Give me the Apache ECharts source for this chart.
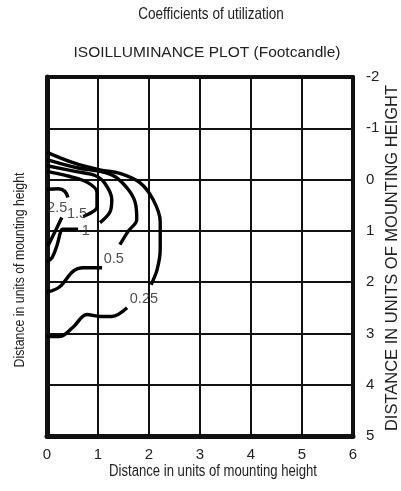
<!DOCTYPE html>
<html><head><meta charset="utf-8">
<script src="https://cdn.jsdelivr.net/npm/echarts@6/dist/echarts.min.js"></script>
<style>html,body{margin:0;padding:0;background:#fff}#c{width:401px;height:491px}</style>
</head><body><div id="c"></div>
<script>
var xTicks = [0, 1, 2, 3, 4, 5, 6];
var yTicks = [-2, -1, 0, 1, 2, 3, 4, 5];
var c025Upper = [[0,-0.53],[0.51,-0.33],[1.04,-0.19],[1.43,-0.12],[1.82,0.06],[2.08,0.39],[2.22,0.82],[2.22,1.36],[2.16,1.75],[2.04,2.05]];
var c025Lower = [[0,3.06],[0.25,3.06],[0.51,2.88],[0.78,2.63],[1.04,2.67],[1.27,2.67],[1.57,2.50]];
var c05Upper = [[0,-0.39],[0.59,-0.23],[1.04,-0.16],[1.33,-0.06],[1.59,0.19],[1.73,0.45],[1.76,0.78],[1.59,1.01],[1.43,1.27]];
var c05Lower = [[0,2.20],[0.25,2.09],[0.51,1.79],[0.71,1.72],[1.08,1.72]];
var c1Upper = [[0,-0.27],[0.55,-0.16],[0.94,-0.08],[1.14,0.08],[1.27,0.39],[1.24,0.62],[1.04,0.84]];
var c1Lower = [[0,1.60],[0.1,1.52],[0.2,1.27],[0.27,1.01],[0.31,0.97],[0.61,0.97]];
var c15Upper = [[0,-0.16],[0.45,-0.06],[0.8,0.06],[0.98,0.25],[0.98,0.53],[0.71,0.72]];
var c25Upper = [[0,0.19],[0.22,0.18],[0.35,0.23],[0.41,0.35]];
var c25Lower = [[0.29,0.74],[0.16,1.01],[0.02,1.29]];
var contourLabels = [
  {name:'2.5', value:[0.2,0.55]},
  {name:'1.5', value:[0.59,0.68]},
  {name:'1', value:[0.76,1.01]},
  {name:'0.5', value:[1.31,1.54]},
  {name:'0.25', value:[1.90,2.32]}
];
var segments = [c025Upper, c025Lower, c05Upper, c05Lower, c1Upper, c1Lower, c15Upper, c25Upper, c25Lower];

var sans = "Arial,'Liberation Sans',sans-serif";
var chart = echarts.init(document.getElementById('c'));
var series = segments.map(function(s){
  return {type:'line', data:s, smooth:0.35, symbol:'none', xAxisIndex:0, yAxisIndex:0,
    lineStyle:{color:'#000', width:3.4}, z:3, silent:true};
});
series.push({type:'scatter', data:contourLabels, symbolSize:0, xAxisIndex:0, yAxisIndex:0, z:4,
  label:{show:true, position:'inside', formatter:function(p){return p.name;}, color:'#222', fontSize:14.5, fontFamily:sans}});
function condensed(text, x, y, size, rot){
  return {type:'text', x:x, y:y, rotation:rot||0, scaleX:0.82, z:10,
    style:{text:text, font:size+'px '+sans, fill:'#222', align:'center', verticalAlign:'middle'}};
}
chart.setOption({
  animation:false,
  title:[
    {text:'ISOILLUMINANCE PLOT (Footcandle)', left:202, textAlign:'center', top:40, textStyle:{fontFamily:sans, fontWeight:'normal', fontSize:15.5, color:'#222'}}
  ],
  grid:{left:47, right:48, top:77, bottom:55, outerBoundsMode:'none', containLabel:false},
  xAxis:[
    {type:'value', min:xTicks[0], max:xTicks[xTicks.length-1], interval:1, position:'bottom',
      axisLine:{show:true, onZero:false, lineStyle:{color:'#111', width:5}}, axisTick:{show:false},
      axisLabel:{color:'#222', fontSize:15, fontFamily:sans, margin:11},
      splitLine:{show:true, lineStyle:{color:'#111', width:2}}},
    {type:'value', min:0, max:6, interval:1, position:'top',
      axisLine:{show:true, onZero:false, lineStyle:{color:'#111', width:4}}, axisTick:{show:false},
      axisLabel:{show:false}, splitLine:{show:false}}
  ],
  yAxis:[
    {type:'value', min:yTicks[0], max:yTicks[yTicks.length-1], interval:1, inverse:true, position:'right',
      axisLine:{show:true, onZero:false, lineStyle:{color:'#111', width:4}}, axisTick:{show:false},
      axisLabel:{color:'#222', fontSize:15, fontFamily:sans, margin:13},
      splitLine:{show:true, lineStyle:{color:'#111', width:2}}},
    {type:'value', min:-2, max:5, interval:1, inverse:true, position:'left',
      axisLine:{show:true, onZero:false, lineStyle:{color:'#111', width:5}}, axisTick:{show:false},
      axisLabel:{show:false}, splitLine:{show:false}}
  ],
  graphic:[
    condensed('Coefficients of utilization', 211, 14, 16.5),
    condensed('Distance in units of mounting height', 213, 472, 16),
    condensed('Distance in units of mounting height', 20, 270, 15, Math.PI/2),
    {type:'text', x:392, y:258, rotation:Math.PI/2, z:10,
      style:{text:'DISTANCE IN UNITS OF MOUNTING HEIGHT', font:'16.5px '+sans, fill:'#222', align:'center', verticalAlign:'middle'}}
  ],
  series:series
});
</script></body></html>
